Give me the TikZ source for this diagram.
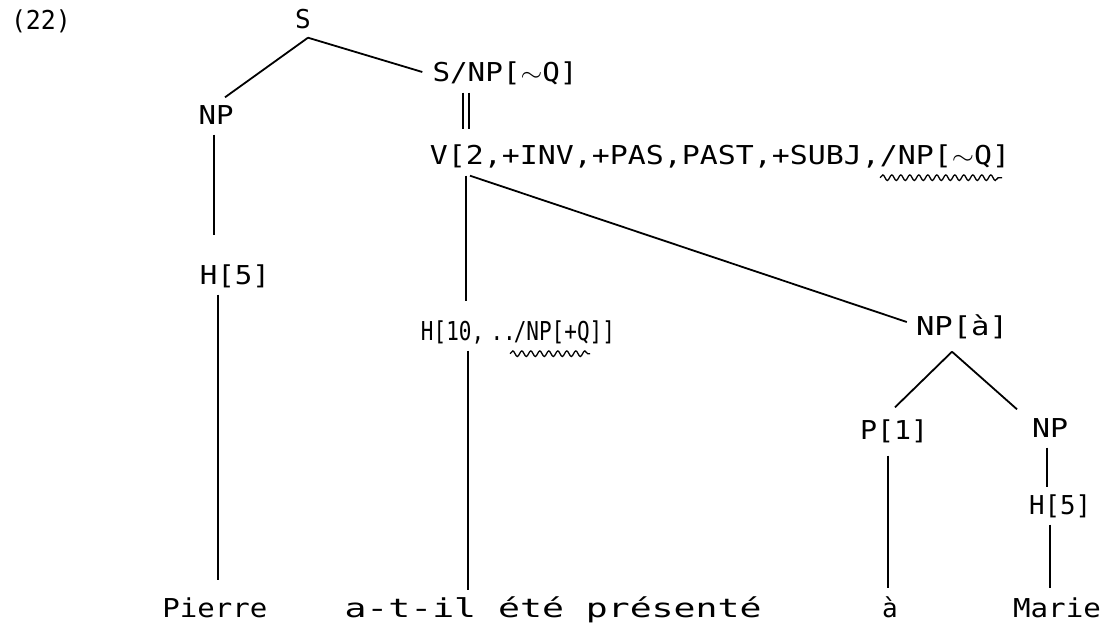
\documentclass[tikz,border=0pt]{standalone}
\usepackage{fontspec}
\setmonofont{DejaVu Sans Mono}
\usetikzlibrary{decorations.pathmorphing,calc}
\newcommand{\fitw}[2]{\resizebox{#1}{\height}{#2}}
\begin{document}
\begin{tikzpicture}[x=1pt,y=-1pt,
  lab/.style={font=\ttfamily\fontsize{26}{26}\selectfont, inner sep=0pt, anchor=center, text height=19pt, text depth=0pt},
  br/.style={line width=1.8pt},
  wavy/.style={line width=1.3pt, decorate, decoration={snake, segment length=9pt, amplitude=2.8pt}}]
\useasboundingbox (0,0) rectangle (1117,640);
% labels
\node[lab] (ex) at (41,20) {\fitw{60pt}{(22)}};
\node[lab] (S) at (303,19) {S};
\node[lab] (NPl) at (216,115) {\fitw{35pt}{NP}};
\node[lab] (SNP) at (505,72) {\fitw{145pt}{S/NP[$\sim$Q]}};
\node[lab] (V) at (720,155) {\fitw{580pt}{V[2,+INV,+PAS,PAST,+SUBJ,/NP[$\sim$Q]}};
\node[lab] (H5a) at (235,275) {\fitw{70pt}{H[5]}};
\node[lab] (H10) at (518,331) {\fitw{194pt}{H[10,\hspace{0.3em}..\hspace{-0.1em}/NP[+Q]]}};
\node[lab] (NPa) at (962,326) {\fitw{92pt}{NP[à]}};
\node[lab] (P1) at (894,430) {\fitw{68pt}{P[1]}};
\node[lab] (NPb) at (1050,428) {\fitw{36pt}{NP}};
\node[lab] (H5b) at (1060,505) {\fitw{62pt}{H[5]}};
\node[lab] (Pierre) at (215,608) {\fitw{105pt}{Pierre}};
\node[lab] (atil) at (553,608) {\fitw{417pt}{a-t-il été présenté}};
\node[lab] (a) at (890,608) {à};
\node[lab] (Marie) at (1057,608) {\fitw{88pt}{Marie}};
% named branch points
\coordinate (dl1) at ($(SNP.south)+(-42,11)$);
\coordinate (dl2) at ($(SNP.south)+(-36,11)$);
% branches
\draw[br] ($(S.south)+(5,9)$) -- ($(NPl.north)+(9,-8)$);
\draw[br] ($(S.south)+(5,9)$) -- ($(SNP.west)+(-10,0)$);
\draw[br] ($(NPl.south)+(-2,10)$) -- ($(H5a.north)+(-21,-30)$);
\draw[br] ($(H5a.south)+(-17,10)$) -- ($(Pierre.north)+(3,-18)$);
\draw[br] (dl1) -- (dl1 |- {$(V.north)+(0,-16)$});
\draw[br] (dl2) -- (dl2 |- {$(V.north)+(0,-16)$});
\draw[br] ($(V.south)+(-254,11)$) -- ($(H10.north)+(-52,-20)$);
\draw[br] ($(V.south)+(-250,11)$) -- ($(NPa.west)+(-9,-4)$);
\draw[br] ($(H10.south)+(-50,10)$) -- ($(atil.north)+(-85,-8)$);
\draw[br] ($(NPa.south)+(-10,16)$) -- ($(P1.north)+(1,-13)$);
\draw[br] ($(NPa.south)+(-10,16)$) -- ($(NPb.north)+(-33,-9)$);
\draw[br] ($(P1.south)+(-6,16)$) -- ($(a.north)+(-2,-10)$);
\draw[br] ($(NPb.south)+(-3,10)$) -- ($(H5b.north)+(-13,-8)$);
\draw[br] ($(H5b.south)+(-10,10)$) -- ($(Marie.north)+(-7,-10)$);
% wavy underlines
\draw[wavy] ($(V.south)+(160,13)$) -- ($(V.south)+(282,13)$);
\draw[wavy] ($(H10.south)+(-8,13)$) -- ($(H10.south)+(72,13)$);
\end{tikzpicture}
\end{document}
